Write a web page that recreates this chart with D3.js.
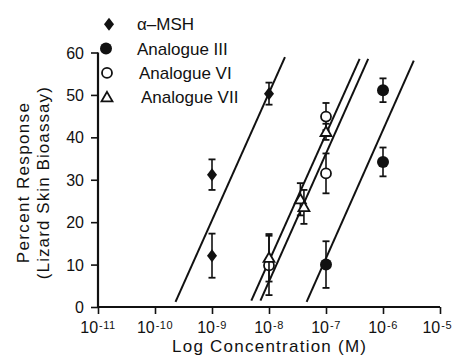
<!DOCTYPE html>
<html>
<head>
<meta charset="utf-8">
<script src="https://cdn.jsdelivr.net/npm/d3@7"></script>
<style>
  body { margin: 0; background: #fff; }
  text { font-family: "Liberation Sans", Arial, sans-serif; fill: #111; }
</style>
</head>
<body>
<div class="d3-container"></div>
<script>
// concentrations are in M, values are percent response, err is +/- bar
const alphaMSH = [
    { conc: 1e-9, value: 31.2, err: 3.6 },
    { conc: 1e-9, value: 12.1, err: 5.2 },
    { conc: 1e-8, value: 50.3, err: 2.6 }
];
const analogueIII = [
    { conc: 1e-7, value: 10.0, err: 5.5 },
    { conc: 1e-6, value: 51.1, err: 2.8 },
    { conc: 1e-6, value: 34.2, err: 3.4 }
];
const analogueVI = [
    { conc: 1e-8, value: 9.8, err: 7.0 },
    { conc: 1e-7, value: 44.9, err: 3.2 },
    { conc: 1e-7, value: 31.5, err: 4.7 }
];
const analogueVII = [
    { conc: 1e-8, value: 11.6, err: 5.6 },
    { conc: 3.55e-8, value: 25.4, err: 3.8 },
    { conc: 4.1e-8, value: 23.6, err: 4.0 },
    { conc: 1e-7, value: 41.3, err: 1.9 }
];
// regression lines, given by their two ends (log10 conc, percent)
const fitLines = [
    { name: "alphaMSH", x0: -9.64, y0: 1.2, x1: -7.72, y1: 58.9 },
    { name: "VII", x0: -8.31, y0: 1.5, x1: -6.41, y1: 58.5 },
    { name: "VI", x0: -8.15, y0: 1.5, x1: -6.26, y1: 58.5 },
    { name: "III", x0: -7.34, y0: 1.2, x1: -5.46, y1: 58.1 }
];
const xTickExps = [-11, -10, -9, -8, -7, -6, -5];
const yTicks = [0, 10, 20, 30, 40, 50, 60];
const legendNames = ["\u03b1\u2013MSH", "Analogue III", "Analogue VI", "Analogue VII"];

const margin = { top: 52.5, right: 13, bottom: 49, left: 98 },
    width = 453 - margin.left - margin.right,
    height = 356 - margin.top - margin.bottom;

const root = d3.select(".d3-container").append("svg")
    .attr("width", 453).attr("height", 356);
const svg = root.append("g")
    .attr("transform", `translate(${margin.left},${margin.top})`);

const x = d3.scaleLog().domain([1e-11, 1e-5]).range([0, width]);
const y = d3.scaleLinear().domain([0, 60]).range([height, 0]);

// axes
const xAxis = svg.append("g").attr("transform", `translate(0,${height})`)
    .call(d3.axisBottom(x).tickValues(xTickExps.map(e => Math.pow(10, e)))
        .tickSize(7).tickFormat(""));
const yAxis = svg.append("g")
    .call(d3.axisLeft(y).tickValues(yTicks).tickSize(7).tickSizeOuter(0).tickFormat(""));
[xAxis, yAxis].forEach(a => {
    a.select(".domain").attr("stroke", "#111").attr("stroke-width", 2.2);
    a.selectAll(".tick line").attr("stroke", "#111").attr("stroke-width", 1.6);
});
xAxis.select(".domain").attr("d", `M-1,0H${width}`);
yAxis.select(".domain").attr("d", `M0,${height}V0`);

// x tick labels as 10 with superscript exponent
xTickExps.forEach(e => {
    const t = svg.append("text")
        .attr("x", x(Math.pow(10, e)))
        .attr("y", height + 26)
        .attr("text-anchor", "middle")
        .style("font-size", "16px");
    t.append("tspan").text("10");
    t.append("tspan").attr("dx", 1).attr("dy", -4)
        .style("font-size", "11px").style("letter-spacing", "0.5px")
        .text(e < 0 ? "-" + Math.abs(e) : e);
    // keep the last label inside the picture
    const b = t.node().getBBox();
    const over = margin.left + b.x + b.width - 452;
    if (over > 0) t.attr("x", x(Math.pow(10, e)) - over);
});
yTicks.forEach(v => {
    svg.append("text")
        .attr("x", -14).attr("y", y(v) + 6)
        .attr("text-anchor", "end")
        .style("font-size", "16px")
        .text(v);
});

svg.append("text")
    .attr("x", 172 - margin.left).attr("y", height + 45)
    .attr("textLength", 194).attr("lengthAdjust", "spacing")
    .style("font-size", "17px")
    .text("Log Concentration (M)");
svg.append("text")
    .attr("transform", `translate(${-69},${y(29.2)}) rotate(-90)`)
    .attr("x", -80).attr("textLength", 160).attr("lengthAdjust", "spacing")
    .style("font-size", "17px")
    .text("Percent Response");
svg.append("text")
    .attr("transform", `translate(${-49},${y(29.2)}) rotate(-90)`)
    .attr("x", -96).attr("textLength", 192).attr("lengthAdjust", "spacing")
    .style("font-size", "17px")
    .text("(Lizard Skin Bioassay)");

// fitted lines
const lx = d => x(Math.pow(10, d));
svg.selectAll(".fit").data(fitLines).join("line")
    .attr("x1", d => lx(d.x0)).attr("y1", d => y(d.y0))
    .attr("x2", d => lx(d.x1)).attr("y2", d => y(d.y1))
    .attr("stroke", "#111").attr("stroke-width", 2);

// markers
const diamondPath = "M0,-6.5L5,0L0,6.5L-5,0Z";
const triangle = d3.symbol().type(d3.symbolTriangle).size(52);

function drawSeries(data, kind) {
    const g = svg.append("g");
    const pts = g.selectAll("g").data(data).join("g")
        .attr("transform", d => `translate(${x(d.conc)},${y(d.value)})`);
    pts.append("line")
        .attr("y1", d => y(d.value + d.err) - y(d.value))
        .attr("y2", d => y(d.value - d.err) - y(d.value))
        .attr("stroke", "#111").attr("stroke-width", 1.6);
    [1, -1].forEach(s => {
        pts.append("line")
            .attr("x1", -3.5).attr("x2", 3.5)
            .attr("y1", d => y(d.value + s * d.err) - y(d.value))
            .attr("y2", d => y(d.value + s * d.err) - y(d.value))
            .attr("stroke", "#111").attr("stroke-width", 1.8);
    });
    addMarker(pts, kind);
}

function addMarker(sel, kind) {
    if (kind === "diamond") {
        sel.append("path").attr("d", diamondPath).attr("fill", "#111");
    } else if (kind === "filled") {
        sel.append("circle").attr("r", 6).attr("fill", "#111");
    } else if (kind === "open") {
        sel.append("circle").attr("r", 5).attr("fill", "#fff")
            .attr("stroke", "#111").attr("stroke-width", 1.8);
    } else {
        sel.append("path").attr("d", triangle).attr("transform", "translate(0,1)")
            .attr("fill", "#fff").attr("stroke", "#111").attr("stroke-width", 1.8);
    }
}

drawSeries(alphaMSH, "diamond");
drawSeries(analogueIII, "filled");
drawSeries(analogueVI, "open");
drawSeries(analogueVII, "triangle");

// legend
const kinds = ["diamond", "filled", "open", "triangle"];
const legX = [109, 106, 107, 107];
const txtX = [137, 137, 139, 141];
legendNames.forEach((name, i) => {
    const row = root.append("g").attr("transform", `translate(0,${24.3 + i * 24.3})`);
    const m = row.append("g").attr("transform", `translate(${legX[i]},0)`);
    addMarker(m, kinds[i]);
    row.append("text").attr("x", txtX[i]).attr("y", 6)
        .style("font-size", "17px").text(name);
});
</script>
</body>
</html>
